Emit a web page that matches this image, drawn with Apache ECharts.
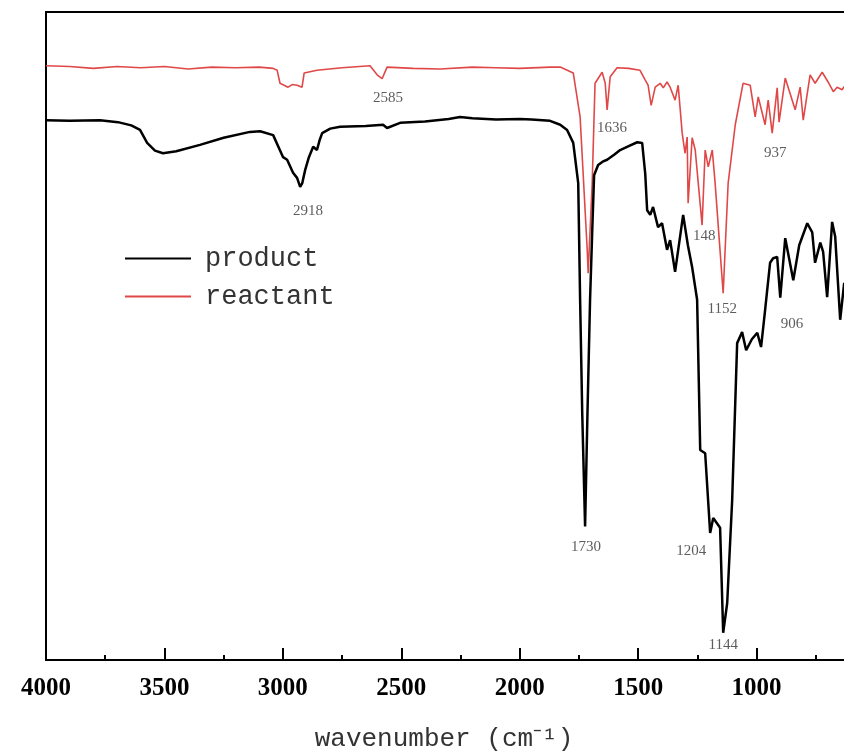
<!DOCTYPE html>
<html>
<head>
<meta charset="utf-8">
<script src="https://cdn.jsdelivr.net/npm/echarts@6/dist/echarts.min.js"></script>
<style>
	html, body { margin: 0; padding: 0; background: #fff; }
	#chart { width: 844px; height: 751px; }
</style>
</head>
<body>
<div id="chart"></div>
<script>
// Product spectrum (wavenumber, transmittance in arbitrary %):
var productWn = [4000, 3900, 3772, 3696, 3640, 3603, 3573, 3540, 3506, 3450, 3350, 3250, 3139, 3096, 3041, 2999, 2982, 2957, 2940, 2927, 2918, 2906, 2890, 2872, 2856, 2845, 2834, 2800, 2758, 2650, 2577, 2560, 2505, 2400, 2300, 2252, 2200, 2100, 2000, 1950, 1872, 1829, 1800, 1774, 1753, 1745, 1736, 1724, 1714, 1703, 1694, 1686, 1669, 1650, 1631, 1600, 1576, 1540, 1504, 1483, 1470, 1462, 1449, 1437, 1416, 1399, 1378, 1365, 1344, 1310, 1290, 1272, 1251, 1238, 1217, 1196, 1183, 1154, 1141, 1124, 1103, 1082, 1061, 1044, 1020, 997, 981, 964, 943, 930, 913, 900, 879, 845, 820, 786, 765, 753, 731, 719, 702, 681, 668, 647, 630];
var productT = [83.3, 83.2, 83.3, 83.0, 82.5, 81.8, 79.8, 78.6, 78.2, 78.5, 79.5, 80.6, 81.5, 81.6, 81.0, 77.6, 77.2, 75.2, 74.4, 73.0, 73.6, 75.6, 77.6, 79.2, 78.7, 80.2, 81.3, 82.0, 82.3, 82.4, 82.6, 82.1, 82.9, 83.1, 83.5, 83.8, 83.6, 83.4, 83.5, 83.4, 83.2, 82.6, 81.8, 79.8, 73.6, 55.6, 38.0, 20.6, 38.0, 55.6, 66.0, 74.8, 76.4, 76.9, 77.2, 78.0, 78.7, 79.3, 79.9, 79.8, 75.0, 69.4, 68.7, 69.9, 66.8, 67.4, 63.3, 64.8, 59.9, 68.7, 64.0, 60.6, 55.6, 32.4, 31.9, 19.6, 21.9, 20.4, 4.2, 8.8, 24.7, 48.9, 50.6, 47.8, 49.5, 50.5, 48.3, 54.0, 61.3, 62.0, 62.2, 55.9, 65.1, 58.6, 64.0, 67.4, 66.0, 61.3, 64.4, 63.0, 56.0, 67.6, 65.3, 52.5, 58.2];

// Reactant spectrum:
var reactantWn = [4000, 3900, 3800, 3700, 3600, 3500, 3400, 3300, 3200, 3100, 3041, 3024, 3012, 2995, 2978, 2960, 2940, 2919, 2910, 2856, 2750, 2632, 2602, 2581, 2560, 2450, 2336, 2200, 2100, 2000, 1872, 1829, 1774, 1745, 1715, 1711, 1694, 1682, 1652, 1639, 1631, 1618, 1589, 1540, 1492, 1470, 1458, 1445, 1428, 1407, 1394, 1378, 1365, 1344, 1331, 1314, 1302, 1293, 1289, 1272, 1259, 1230, 1217, 1204, 1187, 1175, 1141, 1120, 1090, 1057, 1027, 1006, 993, 964, 951, 934, 913, 905, 879, 837, 816, 803, 774, 753, 723, 698, 676, 660, 639, 630];
var reactantT = [91.7, 91.6, 91.3, 91.6, 91.4, 91.6, 91.2, 91.5, 91.4, 91.5, 91.3, 91.0, 89.0, 88.7, 88.4, 88.8, 88.7, 88.4, 90.6, 91.0, 91.4, 91.7, 90.3, 89.7, 91.5, 91.3, 91.2, 91.5, 91.4, 91.3, 91.5, 91.5, 90.6, 83.8, 63.3, 59.7, 73.6, 89.0, 90.7, 89.0, 84.9, 90.0, 91.4, 91.3, 91.0, 89.5, 88.7, 85.6, 88.4, 89.0, 88.3, 89.2, 88.4, 86.4, 88.7, 81.3, 78.2, 80.7, 70.5, 80.6, 78.7, 67.1, 78.7, 76.1, 78.7, 73.6, 56.6, 73.6, 82.6, 89.0, 88.7, 83.8, 86.9, 82.6, 86.4, 81.3, 88.3, 83.0, 89.8, 84.9, 88.4, 83.3, 90.3, 89.0, 90.7, 89.2, 87.7, 88.4, 88.0, 88.5];

// Peak annotations (text, wavenumber, transmittance where the text sits):
var annotationLabels = ["2918", "2585", "1636", "148", "1152", "937", "906", "1730", "1204", "1144"];
var annotationWn = [2894, 2556, 1610, 1221, 1145, 921, 850, 1720, 1276, 1141];
var annotationT = [69.3, 86.7, 82.1, 65.4, 54.2, 78.2, 51.9, 17.4, 16.8, 2.3];

var seriesNames = ["product", "reactant"];
var seriesColors = ["#000000", "#e04848"];


// Zips two arrays into [x, y] pairs:
function zip(xs, ys) {
	var out = [];
	for (var i = 0; i < xs.length; i++) {
		out.push([xs[i], ys[i]]);
	}
	return out;
}

var annotationData = [];
for (var i = 0; i < annotationLabels.length; i++) {
	annotationData.push({ value: [annotationWn[i], annotationT[i]], name: annotationLabels[i] });
}

var chart = echarts.init(document.getElementById("chart"), null, { renderer: "canvas" });

var option = {
	animation: false,
	backgroundColor: "#ffffff",
	grid: {
		left: 46,
		top: 12,
		bottom: 91,
		right: -31,		// axis runs past the picture's right edge (cropped)
		outerBoundsMode: "none",
		containLabel: false,
		show: true,
		borderColor: "#000",
		borderWidth: 2
	},
	legend: {
		data: seriesNames,
		orient: "vertical",
		left: 120,
		top: 240,
		icon: "rect",
		itemWidth: 66,
		itemHeight: 2,
		itemGap: 11,
		textStyle: {
			fontFamily: "Liberation Mono",
			fontSize: 27,
			lineHeight: 27,
			color: "#333",
			padding: [0, 0, 0, 9]
		}
	},
	xAxis: {
		type: "value",
		inverse: true,
		min: 500,
		max: 4000,
		interval: 500,
		name: "wavenumber (cm⁻¹)",
		nameLocation: "middle",
		nameGap: 66,
		nameTextStyle: {
			fontFamily: "Liberation Mono",
			fontSize: 26,
			color: "#333",
			padding: [0, 33, 0, 0]
		},
		axisLine: { lineStyle: { color: "#000", width: 2 } },
		axisTick: { inside: true, length: 12, lineStyle: { color: "#000", width: 2 } },
		minorTick: { show: true, splitNumber: 2, length: 5, lineStyle: { color: "#000", width: 2 } },
		axisLabel: {
			margin: 16,
			fontFamily: "Liberation Serif",
			fontWeight: "bold",
			fontSize: 25,
			color: "#000",
			formatter: function (v) { return String(v); }
		},
		splitLine: { show: false }
	},
	yAxis: {
		type: "value",
		min: 0,
		max: 100,
		axisLine: { show: true, lineStyle: { color: "#000", width: 2 } },
		axisTick: { show: false },
		axisLabel: { show: false },
		splitLine: { show: false }
	},
	series: [
		{
			name: seriesNames[0],
			type: "line",
			data: zip(productWn, productT),
			showSymbol: false,
			color: seriesColors[0],
			lineStyle: { width: 2.5, color: seriesColors[0] },
			z: 3
		},
		{
			name: seriesNames[1],
			type: "line",
			data: zip(reactantWn, reactantT),
			showSymbol: false,
			color: seriesColors[1],
			lineStyle: { width: 1.6, color: seriesColors[1] },
			z: 2
		},
		{
			// Peak labels:
			name: "peaks",
			type: "scatter",
			data: annotationData,
			symbolSize: 0,
			silent: true,
			label: {
				show: true,
				position: "inside",
				formatter: function (p) { return p.name; },
				fontFamily: "Liberation Serif",
				fontSize: 15,
				color: "#333"
			},
			z: 4
		}
	]
};

chart.setOption(option);
</script>
</body>
</html>
